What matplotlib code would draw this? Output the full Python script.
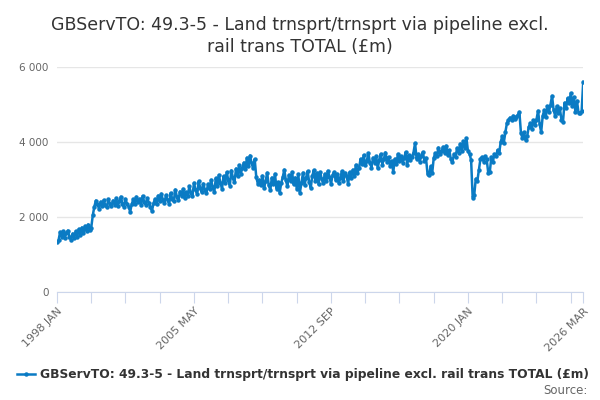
"""Line chart of GBServTO 49.3-5 land transport turnover, monthly."""

import matplotlib

matplotlib.use("Agg")
import matplotlib.pyplot as plt  # noqa: E402
import matplotlib.ticker as ticker  # noqa: E402

TITLE = "GBServTO: 49.3-5 - Land trnsprt/trnsprt via pipeline excl.\nrail trans TOTAL (£m)"
SERIES_NAME = "GBServTO: 49.3-5 - Land trnsprt/trnsprt via pipeline excl. rail trans TOTAL (£m)"

START_YEAR = 1998
MONTHS = ["JAN", "FEB", "MAR", "APR", "MAY", "JUN",
          "JUL", "AUG", "SEP", "OCT", "NOV", "DEC"]

# monthly values, one row per year
VALUES = [
    1340, 1380, 1600, 1480, 1620, 1450, 1580, 1640, 1480, 1400, 1560, 1430,  # 1998
    1620, 1480, 1680, 1530, 1720, 1580, 1760, 1620, 1800, 1660, 1720, 2050,  # 1999
    2280, 2440, 2340, 2220, 2410, 2300, 2450, 2310, 2260, 2470, 2360, 2290,  # 2000
    2440, 2330, 2500, 2290, 2420, 2540, 2360, 2270, 2480, 2350, 2280, 2140,  # 2001
    2340, 2470, 2360, 2540, 2390, 2490, 2330, 2560, 2410, 2330, 2500, 2380,  # 2002
    2270, 2160, 2370, 2480, 2350, 2570, 2420, 2620, 2460, 2370, 2580, 2450,  # 2003
    2360, 2640, 2490, 2420, 2730, 2540, 2450, 2680, 2570, 2750, 2500, 2660,  # 2004
    2560, 2820, 2640, 2570, 2910, 2710, 2620, 2950, 2780, 2660, 2890, 2720,  # 2005
    2640, 2880, 2740, 2990, 2790, 2660, 3030, 2830, 3120, 2900, 2760, 3090,  # 2006
    2920, 3190, 2990, 2840, 3240, 3050, 2930, 3290, 3090, 3380, 3150, 3300,  # 2007
    3450, 3270, 3580, 3350, 3640, 3430, 3300, 3540, 3060, 2890, 2990, 2850,  # 2008
    3100, 2780, 2950, 3180, 2850, 2720, 3050, 2880, 3150, 2760, 2930, 2640,  # 2009
    2900, 3060, 3260, 2980, 2820, 3120, 2950, 3200, 2870, 3050, 2760, 3140,  # 2010
    2650, 2900, 3180, 2850, 3050, 3220, 2930, 2780, 3100, 3250, 2950, 3180,  # 2011
    2870, 3200, 3020, 2900, 3150, 2950, 3230, 3080, 2880, 3120, 3200, 2980,  # 2012
    3150, 2900, 3050, 3220, 2960, 3180, 3100, 2880, 3200, 3050, 3260, 3100,  # 2013
    3390, 3180, 3300, 3550, 3420, 3650, 3380, 3500, 3700, 3450, 3320, 3580,  # 2014
    3450, 3620, 3300, 3520, 3680, 3400, 3560, 3720, 3480, 3600, 3350, 3500,  # 2015
    3200, 3550, 3420, 3680, 3500, 3620, 3450, 3580, 3730, 3400, 3650, 3520,  # 2016
    3600, 3720, 3970, 3550, 3680, 3480, 3620, 3730, 3500, 3580, 3150, 3120,  # 2017
    3350, 3170, 3580, 3700, 3620, 3850, 3680, 3760, 3870, 3720, 3900, 3650,  # 2018
    3780, 3540, 3460, 3680, 3600, 3840, 3720, 3950, 3760, 4020, 3850, 4100,  # 2019
    3750, 3680, 3520, 2520, 2590, 3020, 2960, 3250, 3550, 3600, 3480, 3620,  # 2020
    3540, 3180, 3200, 3600, 3480, 3680, 3620, 3790, 3700, 4000, 4150, 3980,  # 2021
    4260, 4500, 4590, 4650, 4600, 4700, 4620, 4680, 4720, 4800, 4250, 4100,  # 2022
    4260, 4050, 4150, 4400, 4500, 4350, 4580, 4450, 4600, 4830, 4480, 4260,  # 2023
    4700, 4850, 4680, 4950, 4800, 5000, 5230, 4850, 4700, 4950, 4780, 4900,  # 2024
    4600, 4530, 5050, 4900, 5170, 5050, 5300, 4950, 5200, 4800, 5100, 4780,  # 2025
    4770, 4820, 5600,                                                        # 2026
]

Y_TICKS = [0, 2000, 4000, 6000]
TICK_STEP = 22       # months between x ticks
LABEL_EVERY = 4      # label every 4th tick

LINE_COLOR = "#0a7bc4"
TEXT_COLOR = "#333333"
AXIS_COLOR = "#ccd6eb"
GRID_COLOR = "#e6e6e6"
LABEL_COLOR = "#666666"


def month_label(i):
    return f"{START_YEAR + i // 12} {MONTHS[i % 12]}"


def main():
    n = len(VALUES)
    x = list(range(n))

    fig = plt.figure(figsize=(6, 4), dpi=100)
    ax = fig.add_axes([0.095, 0.27, 0.877, 0.5625])

    ax.plot(x, VALUES, color=LINE_COLOR, linewidth=1.8,
            marker="o", markersize=2.2, label=SERIES_NAME)

    ax.set_xlim(0, n - 1)
    ax.set_ylim(0, 6000)
    ax.set_yticks(Y_TICKS)
    ax.yaxis.set_major_formatter(
        ticker.FuncFormatter(lambda v, _: f"{int(v):,}".replace(",", " ")))

    ticks = list(range(0, n - 1, TICK_STEP)) + [n - 1]
    labels = []
    for k, t in enumerate(ticks):
        if t == n - 1 or k % LABEL_EVERY == 0:
            labels.append(month_label(t))
        else:
            labels.append("")
    ax.set_xticks(ticks)
    ax.set_xticklabels(labels, rotation=45, ha="right", rotation_mode="anchor")

    for side in ("top", "right", "left"):
        ax.spines[side].set_visible(False)
    ax.spines["bottom"].set_color(AXIS_COLOR)
    ax.tick_params(axis="x", colors=AXIS_COLOR, length=8, labelcolor=LABEL_COLOR,
                   labelsize=8, pad=2)
    ax.tick_params(axis="y", length=0, labelcolor=LABEL_COLOR, labelsize=7.5, pad=6)
    ax.yaxis.grid(True, color=GRID_COLOR, linewidth=1)
    ax.set_axisbelow(True)

    fig.text(0.5, 0.96, TITLE, ha="center", va="top", fontsize=12.5,
             color=TEXT_COLOR, linespacing=1.25)

    leg = fig.legend(loc="center", bbox_to_anchor=(0.505, 0.063), frameon=False,
                     handlelength=1.5, handletextpad=0.4,
                     labelcolor=TEXT_COLOR, prop={"weight": "bold", "size": 8.8})
    leg.get_lines()[0].set_linewidth(1.8)

    fig.text(0.98, 0.025, "Source:", ha="right", va="center",
             fontsize=8.5, color=LABEL_COLOR)

    fig.savefig("out.png", dpi=100, facecolor="white")
    plt.close(fig)


if __name__ == "__main__":
    main()
